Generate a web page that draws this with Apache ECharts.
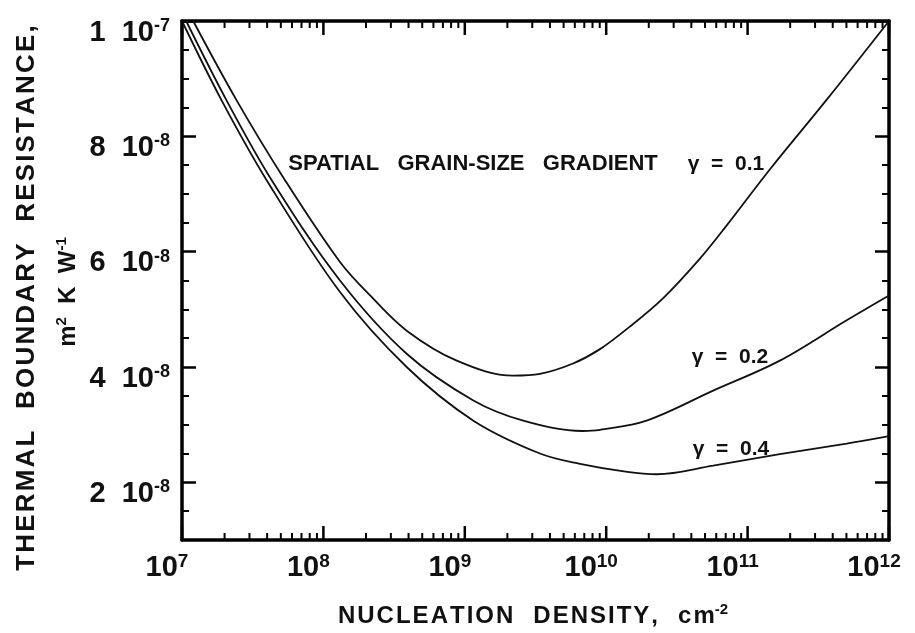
<!DOCTYPE html>
<html>
<head>
<meta charset="utf-8">
<script src="https://cdn.jsdelivr.net/npm/echarts@6/dist/echarts.min.js"></script>
<style>
html,body{margin:0;padding:0;background:#ffffff;}
#chart{width:915px;height:633px;}
</style>
</head>
<body>
<div id="chart"></div>
<script>
// ---- data ----
const densityTicks = [1e7, 1e8, 1e9, 1e10, 1e11, 1e12];
const resistanceTicks = [2e-8, 4e-8, 6e-8, 8e-8, 1e-7];
const resistanceMinorTicks = [1.5e-8, 2.5e-8, 3e-8, 3.5e-8, 4.5e-8, 5e-8, 5.5e-8, 6.5e-8, 7e-8, 7.5e-8, 8.5e-8, 9e-8, 9.5e-8];
const minorMultipliers = [2, 3, 4, 5, 6, 7, 8, 9];

const gamma01Density = [1.2e7, 2.44e7, 5.35e7, 1.31e8, 2.14e8, 3.88e8, 8.77e8, 2.2e9, 3.4e9, 5.82e9, 9.04e9, 1.47e10, 2.52e10, 4.6e10, 7.14e10, 1.44e11, 3.64e11, 1e12];
const gamma01Resistance = [10.0e-8, 8.62e-8, 7.24e-8, 5.82e-8, 5.24e-8, 4.63e-8, 4.11e-8, 3.85e-8, 3.88e-8, 4.06e-8, 4.31e-8, 4.70e-8, 5.19e-8, 5.88e-8, 6.46e-8, 7.43e-8, 8.64e-8, 10.0e-8];

const gamma02Density = [1.07e7, 2.07e7, 4.31e7, 1.31e8, 3.88e8, 1.15e9, 2.59e9, 6.8e9, 9.04e9, 1.93e10, 5.71e10, 1.69e11, 5.02e11, 1e12];
const gamma02Resistance = [10.0e-8, 8.62e-8, 7.24e-8, 5.50e-8, 4.23e-8, 3.42e-8, 3.07e-8, 2.89e-8, 2.91e-8, 3.07e-8, 3.59e-8, 4.11e-8, 4.81e-8, 5.24e-8];

const gamma04Density = [1e7, 1.91e7, 3.97e7, 1.31e8, 3.88e8, 1.15e9, 3.4e9, 6.53e9, 1.41e10, 2.28e10, 5.71e10, 1.69e11, 5.02e11, 1e12];
const gamma04Resistance = [10.0e-8, 8.62e-8, 7.24e-8, 5.30e-8, 4.00e-8, 3.07e-8, 2.50e-8, 2.32e-8, 2.18e-8, 2.14e-8, 2.29e-8, 2.49e-8, 2.67e-8, 2.80e-8];

const seriesNames = ['\u03b3 = 0.1', '\u03b3 = 0.2', '\u03b3 = 0.4'];
const xTitle = 'NUCLEATION DENSITY, cm';
const xTitleSup = '-2';
const yTitle = 'THERMAL BOUNDARY RESISTANCE,';
const yUnit = ['m', '2', 'K W', '-1'];
const annotation = 'SPATIAL GRAIN-SIZE GRADIENT';

// ---- helpers ----
const FONT = '"Liberation Sans", Arial, Helvetica, sans-serif';
const INK = '#111111';
function track(str, gap, wordGap) {
  return str.split(' ').map(w => Array.from(w).join(gap)).join(wordGap);
}
function zip(xs, ys) { return xs.map((x, i) => [x, ys[i]]); }

const minorDensity = [];
densityTicks.slice(0, -1).forEach(d => minorMultipliers.forEach(m => minorDensity.push(m * d)));
const yMin = 1e-8, yMax = 1e-7;

const xRich = {
  b: {fontFamily: FONT, fontWeight: 'bold', fontSize: 29, color: INK, lineHeight: 30, verticalAlign: 'bottom'},
  s: {fontFamily: FONT, fontWeight: 'bold', fontSize: 19, color: INK, lineHeight: 19, verticalAlign: 'top'}
};
const yRich = {
  b: {fontFamily: FONT, fontWeight: 'bold', fontSize: 29, color: INK, lineHeight: 30, verticalAlign: 'bottom'},
  s: {fontFamily: FONT, fontWeight: 'bold', fontSize: 18, color: INK, lineHeight: 18, verticalAlign: 'top'}
};

const axisLineStyle = {color: '#000', width: 3.5};

function logAxis(position, withLabel) {
  return {
    type: 'log', logBase: 10, min: 1e7, max: 1e12, position: position,
    axisLine: {show: true, onZero: false, lineStyle: axisLineStyle},
    axisTick: {show: false},
    axisLabel: withLabel ? {
      show: true, margin: 12, padding: [0, 30, 0, 0],
      formatter: v => '{b|10}{s|' + Math.round(Math.log10(v)) + '}',
      rich: xRich
    } : {show: false},
    splitLine: {show: false}, minorTick: {show: false}
  };
}
function valAxis(position, ticks, len, width, withLine, withLabel) {
  return {
    type: 'value', min: yMin, max: yMax, position: position,
    axisLine: {show: withLine, onZero: false, lineStyle: axisLineStyle},
    axisTick: {show: true, inside: true, length: len, customValues: ticks, lineStyle: {color: '#000', width: width}},
    axisLabel: withLabel ? {
      show: true, customValues: resistanceTicks, margin: 12, padding: [22, 0, 0, 0],
      formatter: v => {
        const e = Math.floor(Math.log10(v) + 1e-9);
        const m = Math.round(v / Math.pow(10, e));
        return '{b|' + m + '  10}{s|' + e + '}';
      },
      rich: yRich
    } : {show: false},
    splitLine: {show: false}
  };
}

const lineStyle = {color: INK, width: 1.8};
function curve(name, xs, ys) {
  return {
    name: name, type: 'line', xAxisIndex: 0, yAxisIndex: 0,
    data: zip(xs, ys), showSymbol: false, symbol: 'none', smooth: 0.35,
    lineStyle: lineStyle, clip: true, silent: true
  };
}

const textBase = {fill: INK, textAlign: 'center', textVerticalAlign: 'middle', align: 'center', verticalAlign: 'middle'};

const textGraphics = [
  {
    type: 'text', x: 27, y: 298, rotation: Math.PI / 2, silent: true,
    style: Object.assign({text: track(yTitle, '\u200A', '   '), fontFamily: FONT, fontWeight: 'bold', fontSize: 26}, textBase)
  },
  {
    type: 'text', x: 67, y: 292, rotation: Math.PI / 2, silent: true,
    style: Object.assign({
      text: '{b|' + yUnit[0] + '}{s|' + yUnit[1] + '}{b|  ' + yUnit[2].split(' ').join('  ') + '}{s|' + yUnit[3] + '}',
      rich: {
        b: {fontFamily: FONT, fontWeight: 'bold', fontSize: 24, fill: INK, color: INK, lineHeight: 26, verticalAlign: 'bottom'},
        s: {fontFamily: FONT, fontWeight: 'bold', fontSize: 15, fill: INK, color: INK, lineHeight: 15, verticalAlign: 'top'}
      }
    }, textBase)
  },
  {
    type: 'text', x: 533, y: 615, silent: true,
    style: Object.assign({
      text: '{b|' + track(xTitle, '\u200A', '   ') + '}{s|' + xTitleSup + '}',
      rich: {
        b: {fontFamily: FONT, fontWeight: 'bold', fontSize: 24, fill: INK, color: INK, lineHeight: 26, verticalAlign: 'bottom'},
        s: {fontFamily: FONT, fontWeight: 'bold', fontSize: 15, fill: INK, color: INK, lineHeight: 15, verticalAlign: 'top'}
      }
    }, textBase)
  },
  {
    type: 'text', x: 473, y: 164, silent: true,
    style: Object.assign({text: annotation.split(' ').join('   '), fontFamily: FONT, fontWeight: 'bold', fontSize: 22}, textBase)
  },
  {
    type: 'text', x: 726, y: 164, silent: true,
    style: Object.assign({text: seriesNames[0].split(' ').join('  '), fontFamily: FONT, fontWeight: 'bold', fontSize: 21}, textBase)
  },
  {
    type: 'text', x: 730, y: 357, silent: true,
    style: Object.assign({text: seriesNames[1].split(' ').join('  '), fontFamily: FONT, fontWeight: 'bold', fontSize: 21}, textBase)
  },
  {
    type: 'text', x: 731, y: 449, silent: true,
    style: Object.assign({text: seriesNames[2].split(' ').join('  '), fontFamily: FONT, fontWeight: 'bold', fontSize: 21}, textBase)
  }
];

const chart = echarts.init(document.getElementById('chart'), null, {renderer: 'canvas'});
chart.setOption({
  animation: false,
  backgroundColor: '#ffffff',
  grid: {left: 182, top: 21, right: 26, bottom: 93, containLabel: false},
  xAxis: [
    logAxis('bottom', true),
    logAxis('top', false)
  ],
  yAxis: [
    valAxis('left', resistanceTicks, 14, 2.5, true, true),
    valAxis('left', resistanceMinorTicks, 7, 2, false, false),
    valAxis('right', resistanceTicks, 14, 2.5, true, false),
    valAxis('right', resistanceMinorTicks, 7, 2, false, false)
  ],
  series: [
    curve(seriesNames[0], gamma01Density, gamma01Resistance),
    curve(seriesNames[1], gamma02Density, gamma02Resistance),
    curve(seriesNames[2], gamma04Density, gamma04Resistance)
  ],
  graphic: textGraphics
});

// x-axis ticks (bottom and top frame, pointing inward), positioned through the log axis scale
try {
  const tickGraphics = [];
  const addTicks = (values, len, width) => {
    values.forEach(v => {
      const b = chart.convertToPixel({xAxisIndex: 0, yAxisIndex: 0}, [v, yMin]);
      const t = chart.convertToPixel({xAxisIndex: 0, yAxisIndex: 0}, [v, yMax]);
      if (!b || !t || !isFinite(b[0])) return;
      tickGraphics.push({type: 'line', silent: true, z: 10,
        shape: {x1: b[0], y1: b[1], x2: b[0], y2: b[1] - len}, style: {stroke: '#000', lineWidth: width}});
      tickGraphics.push({type: 'line', silent: true, z: 10,
        shape: {x1: t[0], y1: t[1], x2: t[0], y2: t[1] + len}, style: {stroke: '#000', lineWidth: width}});
    });
  };
  addTicks(densityTicks, 14, 2.5);
  addTicks(minorDensity, 7, 2);
  chart.setOption({graphic: textGraphics.concat(tickGraphics)});
} catch (e) { /* keep the chart as drawn */ }
</script>
</body>
</html>
